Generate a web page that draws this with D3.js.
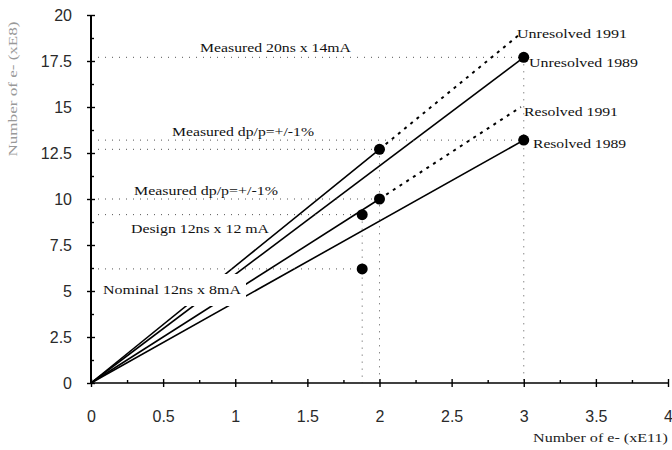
<!DOCTYPE html>
<html>
<head>
<meta charset="utf-8">
<script src="https://cdn.jsdelivr.net/npm/d3@7"></script>
<style>
  html, body { margin: 0; padding: 0; background: #fff; }
  svg { display: block; }
</style>
</head>
<body>
<svg id="chart" width="672" height="450"></svg>
<script>
// Axis ticks
const xTicks = [0, 0.5, 1, 1.5, 2, 2.5, 3, 3.5, 4];
const yTicks = [0, 2.5, 5, 7.5, 10, 12.5, 15, 17.5, 20];
const xMinor = [0.25, 0.75, 1.25, 1.75, 2.25, 2.75, 3.25, 3.75];
const yMinor = [1.25, 3.75, 6.25, 8.75, 11.25, 13.75, 16.25, 18.75];

// Curves: [e- (xE11), e- (xE8)]; the 1991 curves are solid up to the measured point, projected beyond it
const unresolved1991 = [[0, 0], [2, 12.7], [2.98, 19.0]];
const unresolved1989 = [[0, 0], [3, 17.7]];
const resolved1991 = [[0, 0], [2, 10.0], [2.98, 15.0]];
const resolved1989 = [[0, 0], [3, 13.2]];
const curveNames = ["Unresolved 1991", "Unresolved 1989", "Resolved 1991", "Resolved 1989"];

// Operating points
const pointNames = ["Measured 20ns x 14mA", "Measured dp/p=+/-1%", "Measured dp/p=+/-1%", "Design 12ns x 12 mA", "Nominal 12ns x 8mA", "Resolved 1989"];
const pointX = [3, 2, 2, 1.88, 1.88, 3];
const pointY = [17.7, 12.7, 10.0, 9.15, 6.2, 13.2];

const svg = d3.select("#chart");
const W = 672, H = 450;
const margin = { left: 91, right: 4, top: 15, bottom: 67 };

const x = d3.scaleLinear().domain([0, 4]).range([margin.left, W - margin.right]);
const y = d3.scaleLinear().domain([0, 20]).range([H - margin.bottom, margin.top]);

const serif = "'Liberation Serif', 'Times New Roman', serif";
const sans = "'Liberation Sans', Arial, Helvetica, sans-serif";

// drawing layers, back to front
const curveLayer = svg.append("g");
const maskLayer = svg.append("g");
const refTop = svg.append("g");
const dotLayer = svg.append("g");
const textLayer = svg.append("g");

// horizontal guides from the y axis to each point
pointX.forEach((px, i) => {
  refTop.append("line")
    .attr("x1", x(0)).attr("x2", x(px))
    .attr("y1", y(pointY[i])).attr("y2", y(pointY[i]))
    .attr("stroke", "#555").attr("stroke-width", 1)
    .attr("stroke-dasharray", "1,6");
});
// vertical guides down to the x axis from the highest point at each x
const guideX = Array.from(new Set(pointX));
guideX.forEach(gx => {
  const top = d3.max(pointX.map((px, i) => px === gx ? pointY[i] : -Infinity));
  refTop.append("line")
    .attr("x1", x(gx)).attr("x2", x(gx))
    .attr("y1", y(top)).attr("y2", y(0))
    .attr("stroke", "#555").attr("stroke-width", 1)
    .attr("stroke-dasharray", "1,6");
});

// ---- curves ----
const line = d3.line().x(d => x(d[0])).y(d => y(d[1]));
const curves = [unresolved1991, unresolved1989, resolved1991, resolved1989];
curves.forEach(pts => {
  curveLayer.append("path")
    .attr("d", line(pts.slice(0, 2)))
    .attr("fill", "none").attr("stroke", "#000").attr("stroke-width", 1.6);
  if (pts.length > 2) {
    curveLayer.append("path")
      .attr("d", line(pts.slice(1)))
      .attr("fill", "none").attr("stroke", "#000").attr("stroke-width", 2)
      .attr("stroke-dasharray", "3,5");
  }
});

// ---- points ----
pointX.forEach((px, i) => {
  dotLayer.append("circle")
    .attr("cx", x(px)).attr("cy", y(pointY[i])).attr("r", 5.5)
    .attr("fill", "#000");
});

// ---- axes ----
const axisY = svg.append("g").attr("transform", `translate(${x(0)},0)`);
axisY.call(d3.axisLeft(y).tickValues(yTicks).tickSize(4).tickPadding(15).tickFormat(d3.format("")));
axisY.append("g").call(d3.axisRight(y).tickValues(yTicks).tickSize(4).tickFormat(""))
  .call(g => g.select(".domain").remove());
axisY.append("g").call(d3.axisRight(y).tickValues(yMinor).tickSize(3).tickFormat(""))
  .call(g => g.select(".domain").remove());
axisY.select(".domain").attr("stroke-width", 2).attr("d", `M0,${y(0)}V${y(20)}`);

const axisX = svg.append("g").attr("transform", `translate(0,${y(0)})`);
axisX.call(d3.axisBottom(x).tickValues(xTicks).tickSize(4).tickPadding(24).tickFormat(d3.format("")));
axisX.append("g").call(d3.axisTop(x).tickValues(xTicks).tickSize(4).tickFormat(""))
  .call(g => g.select(".domain").remove());
axisX.append("g").call(d3.axisTop(x).tickValues(xMinor).tickSize(3).tickFormat(""))
  .call(g => g.select(".domain").remove());
axisX.select(".domain").attr("stroke-width", 1.6).attr("d", `M${x(0)},0H${x(4)}`);

[axisX, axisY].forEach(g => {
  g.selectAll(".tick line").attr("stroke", "#000").attr("stroke-width", 1.4);
  g.selectAll(".tick text")
    .attr("font-family", sans).attr("font-size", 16).attr("fill", "#2a2a2a");
});

// ---- annotations ----
// left-side labels: [left px, centre px, width px, mask above, mask below]
const leftLabelBox = [
  [200, 47, 151, 12, 14],
  [172, 131, 142, 12, 14],
  [134, 190, 144, 12, 14],
  [131, 228, 138, 10, 7],
  [103, 289, 138, 15, 17]
];
const leftLabelText = pointNames.slice(0, 5);
leftLabelText.forEach((t, i) => {
  const [lx, cy, w, up, down] = leftLabelBox[i];
  maskLayer.append("rect")
    .attr("x", lx - 3).attr("y", cy - up).attr("width", w + (i === 4 ? 8 : 4)).attr("height", up + down)
    .attr("fill", "#fff");
  textLayer.append("text")
    .attr("x", lx).attr("y", cy + 4.5)
    .attr("font-family", serif).attr("font-size", 13).attr("fill", "#111")
    .attr("textLength", w).attr("lengthAdjust", "spacingAndGlyphs")
    .text(t);
});

// curve-end labels
const curveLabelBox = [
  [517, 33, 110],
  [529, 62, 109],
  [524, 111, 94],
  [533, 143, 93]
];
curveNames.forEach((t, i) => {
  const [lx, cy, w] = curveLabelBox[i];
  textLayer.append("text")
    .attr("x", lx).attr("y", cy + 4.5)
    .attr("font-family", serif).attr("font-size", 13).attr("fill", "#111")
    .attr("textLength", w).attr("lengthAdjust", "spacingAndGlyphs")
    .text(t);
});

// axis titles
textLayer.append("text")
  .attr("x", 668).attr("y", 442)
  .attr("text-anchor", "end")
  .attr("font-family", serif).attr("font-size", 12.5).attr("fill", "#222")
  .attr("textLength", 135).attr("lengthAdjust", "spacingAndGlyphs")
  .text("Number of e- (xE11)");

textLayer.append("text")
  .attr("transform", "translate(17,89) rotate(-90)")
  .attr("text-anchor", "middle")
  .attr("font-family", serif).attr("font-size", 12).attr("fill", "#999")
  .attr("textLength", 135).attr("lengthAdjust", "spacingAndGlyphs")
  .text("Number of e- (xE8)");
</script>
</body>
</html>
